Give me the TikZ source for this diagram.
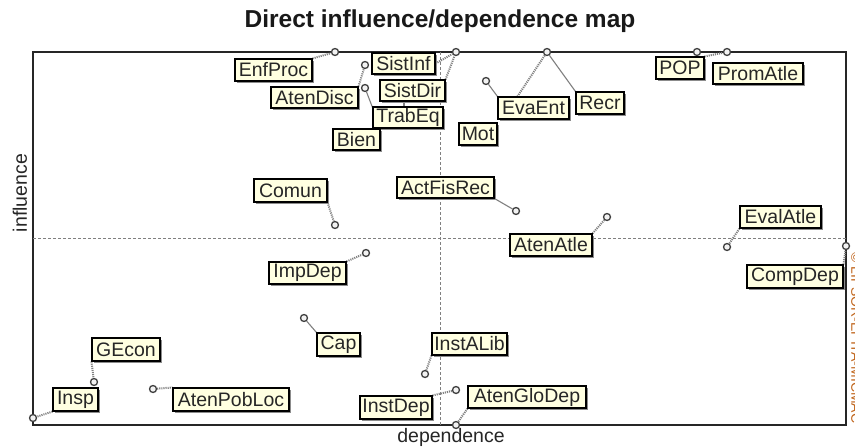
\documentclass[tikz,border=0pt]{standalone}
\usepackage{fontspec}
\setmainfont{Liberation Sans}
\usetikzlibrary{shadows}

\definecolor{tipfill}{HTML}{FFFFE1}
\definecolor{linkgray}{HTML}{808080}
\definecolor{credit}{HTML}{C0641A}

\pgfdeclarelayer{under}
\pgfsetlayers{under,main}

% label box: centred on its box, given left/right/top/bottom edges
\newcommand\mapbox[6]{%
  \node[lbl, minimum width={#3-#2}, minimum height={#5-#4}]
    (#1) at ({(#2+#3)/2},{(#4+#5)/2}) {#6};}

\begin{document}
\begin{tikzpicture}[x=1pt,y=-1pt,
  lbl/.style={draw=black, line width=1.1pt, fill=tipfill, inner sep=0pt,
    font=\fontsize{19.5}{20}\selectfont, text=black!85,
    drop shadow={shadow xshift=1.8pt, shadow yshift=-1.8pt,
      fill=black!45, opacity=1}},
  pt/.style={circle, draw=black!75, fill=gray!10, line width=1.3pt,
    minimum size=7pt, inner sep=0pt},
  lnkd/.style={linkgray, line width=2pt, dash pattern=on 1.1pt off 1pt},
  lnks/.style={linkgray, line width=1.1pt},
  axl/.style={font=\fontsize{19.5}{20}\selectfont, text=black!85, inner sep=0pt},
  frame/.style={draw=black!85, line width=1.3pt},
  midline/.style={draw=gray, line width=0.9pt, dash pattern=on 3pt off 2pt}]

\useasboundingbox (0,0) rectangle (855,447);

% title and axis names
\node[font=\bfseries\fontsize{24.5}{26}\selectfont, text=black!90] (title)
  at (440,21) {Direct influence/dependence map};
\node[axl, rotate=90, anchor=base] (ylab) at (27,193) {influence};
\node[axl, anchor=base] (xlab) at (451,442) {dependence};
\node[rotate=-90, anchor=south west, inner sep=0pt,
  font=\fontsize{14}{14}\selectfont, text=credit] (credit) at (851,252)
  {© LIPSOR-EPITA-MICMAC};

% variable points
\node[pt] (pEnfProc)  at (335,52) {};
\node[pt] (pAtenDisc) at (365,65) {};
\node[pt] (pBien)     at (365,88) {};
\node[pt] (pSist)     at (456,52) {};
\node[pt] (pEva)      at (547,52) {};
\node[pt] (pMot)      at (486,81) {};
\node[pt] (pPOP)      at (697,52) {};
\node[pt] (pProm)     at (727,52) {};
\node[pt] (pComun)    at (335,225) {};
\node[pt] (pActFis)   at (516,211) {};
\node[pt] (pAtenAtle) at (607,217) {};
\node[pt] (pEvalAtle) at (727,247) {};
\node[pt] (pCompDep)  at (846,246) {};
\node[pt] (pImpDep)   at (366,253) {};
\node[pt] (pCap)      at (304,318) {};
\node[pt] (pGEcon)    at (94,382) {};
\node[pt] (pInstALib) at (425,374) {};
\node[pt] (pInsp)     at (33,418) {};
\node[pt] (pAtenPob)  at (153,389) {};
\node[pt] (pInstDep)  at (456,390) {};
\node[pt] (pAtenGlo)  at (456,425) {};

% variable labels
\mapbox{EnfProc}{235}{312}{59}{81}{EnfProc}
\mapbox{SistInf}{372}{435}{53}{74}{SistInf}
\mapbox{AtenDisc}{271}{358}{87}{108}{AtenDisc}
\mapbox{SistDir}{380}{445}{80}{101}{SistDir}
\mapbox{TrabEq}{373}{443}{107}{128}{TrabEq}
\mapbox{Bien}{333}{380}{129}{150}{Bien}
\mapbox{Mot}{459}{497}{123}{145}{Mot}
\mapbox{EvaEnt}{498}{569}{97}{119}{EvaEnt}
\mapbox{Recr}{576}{624}{92}{114}{Recr}
\mapbox{POP}{656}{704}{57}{79}{POP}
\mapbox{PromAtle}{713}{803}{63}{84}{PromAtle}
\mapbox{Comun}{254}{327}{179}{202}{Comun}
\mapbox{ActFisRec}{397}{494}{177}{198}{ActFisRec}
\mapbox{AtenAtle}{510}{592}{234}{256}{AtenAtle}
\mapbox{EvalAtle}{740}{821}{206}{228}{EvalAtle}
\mapbox{CompDep}{747}{843}{265}{288}{CompDep}
\mapbox{ImpDep}{269}{346}{262}{284}{ImpDep}
\mapbox{Cap}{317}{360}{333}{356}{Cap}
\mapbox{GEcon}{92}{160}{338}{361}{GEcon}
\mapbox{InstALib}{432}{507}{333}{355}{InstALib}
\mapbox{Insp}{53}{98}{388}{411}{Insp}
\mapbox{AtenPobLoc}{173}{289}{388}{411}{AtenPobLoc}
\mapbox{InstDep}{360}{432}{396}{419}{InstDep}
\mapbox{AtenGloDep}{468}{586}{386}{408}{AtenGloDep}

\begin{pgfonlayer}{under}
  % white page, plot frame and mean lines
  \fill[white] (0,0) rectangle (855,447);
  \draw[frame] (33,52) rectangle (846,425);
  \draw[midline] (33,238) -- (846,238);
  \draw[midline] (440,52) -- (440,425);

  % leader lines from labels to points
  \draw[lnkd] (EnfProc.north east) -- (pEnfProc);
  \draw[lnkd] (AtenDisc.north east) -- (pAtenDisc);
  \draw[lnks] (pBien) -- (Bien.north east);
  \draw[lnkd] (SistInf.east) -- (pSist);
  \draw[lnkd] (SistDir.north east) -- (pSist);
  \draw[lnks] ([xshift=-4pt]TrabEq.north) -- ([xshift=-8.5pt]SistDir.south);
  \draw[lnks] (pMot) -- (EvaEnt.north west);
  \draw[lnkd] (pEva) -- ([xshift=20pt]EvaEnt.north west);
  \draw[lnks] (pEva) -- (Recr.north west);
  \draw[lnks] (pPOP) -- (pPOP |- POP.north);
  \draw[lnkd] (POP.north east) -- (pProm);
  \draw[lnkd] (Comun.south east) -- (pComun);
  \draw[lnkd] (ImpDep.north east) -- (pImpDep);
  \draw[lnks] (ActFisRec.south east) -- (pActFis);
  \draw[lnkd] (AtenAtle.north east) -- (pAtenAtle);
  \draw[lnkd] (EvalAtle.south west) -- (pEvalAtle);
  \draw[lnkd] (CompDep.north east) -- (pCompDep);
  \draw[lnks] (pCap) -- (Cap.north west);
  \draw[lnkd] (GEcon.south west) -- (pGEcon);
  \draw[lnkd] (Insp.south west) -- (pInsp);
  \draw[lnkd] (pAtenPob) -- (AtenPobLoc.north west);
  \draw[lnkd] (InstALib.south west) -- (pInstALib);
  \draw[lnkd] (InstDep.north east) -- (pInstDep);
  \draw[lnkd] (AtenGloDep.south west) -- (pAtenGlo);
\end{pgfonlayer}
\end{tikzpicture}
\end{document}
